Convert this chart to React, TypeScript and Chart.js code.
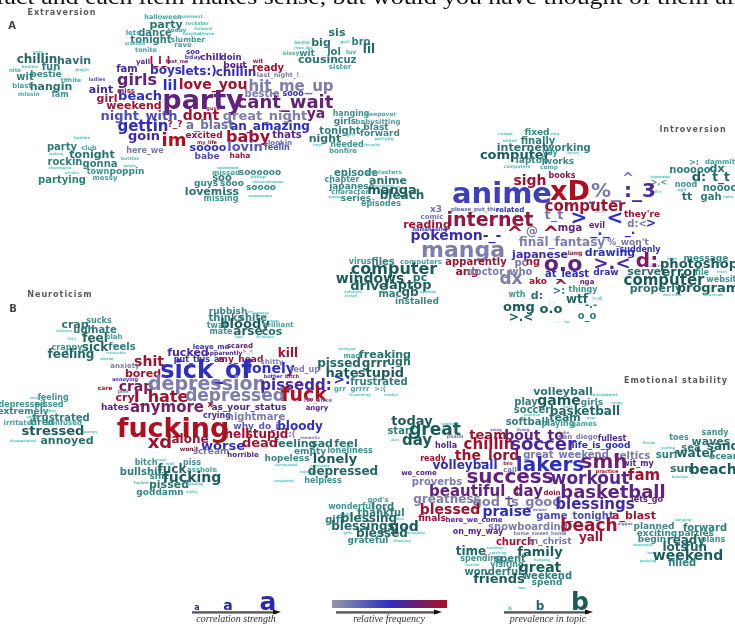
import { useEffect, useRef } from "react";
import { Chart, registerables } from "chart.js";

Chart.register(...registerables);

// [word, x, y, correlation strength, relative frequency]
type Term = [string, number, number, number, number];
// [word, x, y, prevalence in topic]
type Topic = [string, number, number, number];

const WIDTH = 735;
const HEIGHT = 624;
const FONT = "'DejaVu Sans', Verdana, sans-serif";

// ---------- Extraversion ----------
const extraversionTerms: Term[] = [
  ["soo", 193, 52, 0.07, 0.55],
  ["yall", 143, 62, 0.07, 0.7],
  ["l_l_l", 160, 61, 0.1, 0.95],
  ["text_me", 177, 62, 0.05, 0.8],
  ["bday", 193, 57, 0.06, 0.35],
  ["chill", 211, 58, 0.095, 0.65],
  ["doin", 231, 58, 0.085, 0.6],
  ["wit", 258, 61, 0.06, 0.85],
  ["fam", 127, 69, 0.1, 0.58],
  ["boys", 166, 71, 0.12, 0.5],
  ["lets:)", 199, 72, 0.12, 0.5],
  ["chillin", 236, 73, 0.12, 0.55],
  ["bout", 235, 66, 0.09, 0.7],
  ["ready", 268, 68, 0.1, 0.95],
  ["last_night_!", 278, 75, 0.065, 0.12],
  ["ladies", 97, 80, 0.05, 0.3],
  ["girls", 137, 81, 0.16, 0.7],
  ["lil", 170, 86, 0.14, 0.5],
  ["love_you", 213, 85, 0.14, 0.95],
  ["hit_me_up", 291, 87, 0.15, 0.12],
  ["aint", 101, 90, 0.11, 0.55],
  ["miss", 126, 91, 0.07, 0.9],
  ["girl", 107, 99, 0.11, 0.9],
  ["beach", 140, 97, 0.13, 0.5],
  ["party", 203, 102, 0.27, 0.7],
  ["bestie", 262, 94, 0.1, 0.12],
  ["sooo", 293, 94, 0.08, 0.5],
  ["cant_wait", 285, 103, 0.18, 0.72],
  ["weekend", 134, 106, 0.11, 0.95],
  ["guys", 213, 109, 0.05, 0.9],
  ["night_with", 139, 117, 0.13, 0.35],
  ["dont", 201, 116, 0.14, 0.95],
  ["great_night", 265, 117, 0.13, 0.12],
  ["ya", 316, 114, 0.14, 0.75],
  ["gettin", 143, 127, 0.15, 0.5],
  ["?_?", 175, 125, 0.09, 0.9],
  ["a_blast", 210, 126, 0.12, 0.2],
  ["an_amazing", 270, 127, 0.12, 0.5],
  ["goin", 144, 137, 0.13, 0.55],
  ["im", 174, 141, 0.18, 1],
  ["excited", 204, 136, 0.09, 0.9],
  ["baby", 248, 138, 0.16, 0.95],
  ["thats", 287, 135, 0.1, 0.7],
  ["my_life", 207, 143, 0.05, 0.9],
  ["lookin", 280, 143, 0.07, 0.2],
  ["soooo", 208, 148, 0.11, 0.5],
  ["lovin", 245, 148, 0.13, 0.3],
  ["feelin", 277, 148, 0.08, 0.35],
  ["here_we", 145, 151, 0.08, 0.15],
  ["babe", 207, 157, 0.09, 0.35],
  ["haha", 240, 156, 0.075, 0.9],
];

const extraversionNightOut: Topic[] = [
  ["halloween", 163, 17, 0.065],
  ["basement", 190, 17, 0.045],
  ["party", 166, 25, 0.11],
  ["rockstar", 197, 24, 0.05],
  ["lets", 133, 33, 0.07],
  ["dance", 155, 33, 0.1],
  ["today", 177, 30, 0.06],
  ["forward", 203, 29, 0.04],
  ["hospital", 192, 34, 0.04],
  ["whores", 206, 34, 0.04],
  ["tonight", 151, 40, 0.1],
  ["slumber", 188, 40, 0.075],
  ["wasted", 135, 44, 0.05],
  ["rave", 183, 45, 0.07],
  ["tonite", 146, 50, 0.065],
];

const extraversionHangingOut: Topic[] = [
  ["lovin", 38, 52, 0.035],
  ["chillin", 37, 60, 0.12],
  ["havin", 74, 61, 0.11],
  ["nite", 15, 71, 0.055],
  ["besties", 30, 67, 0.04],
  ["fun", 51, 67, 0.1],
  ["playin", 82, 70, 0.04],
  ["wit", 25, 77, 0.1],
  ["bestie", 46, 75, 0.09],
  ["sol", 67, 79, 0.035],
  ["tonite", 71, 80, 0.06],
  ["blast", 22, 86, 0.07],
  ["hangin", 51, 87, 0.11],
  ["missin", 29, 94, 0.06],
  ["fam", 60, 95, 0.08],
];

const extraversionFamily: Topic[] = [
  ["sis", 337, 33, 0.11],
  ["bestie", 302, 43, 0.045],
  ["big", 321, 43, 0.11],
  ["gurl", 345, 42, 0.04],
  ["bro", 361, 42, 0.1],
  ["lmao", 299, 48, 0.035],
  ["aka", 309, 48, 0.035],
  ["sissy", 291, 53, 0.06],
  ["wit", 307, 54, 0.09],
  ["lol", 334, 52, 0.1],
  ["luv", 351, 52, 0.06],
  ["lil", 369, 50, 0.12],
  ["cousin", 318, 60, 0.11],
  ["cuz", 347, 60, 0.1],
  ["sister", 340, 67, 0.07],
];

const extraversionClubbing: Topic[] = [
  ["homies", 82, 138, 0.04],
  ["party", 62, 147, 0.1],
  ["club", 89, 148, 0.065],
  ["rocking", 56, 154, 0.035],
  ["tonight", 92, 155, 0.11],
  ["bottles", 130, 159, 0.045],
  ["rockin", 65, 162, 0.1],
  ["gonna", 100, 164, 0.1],
  ["champagne", 60, 168, 0.035],
  ["boozin", 130, 166, 0.035],
  ["drinkin", 72, 173, 0.035],
  ["town", 98, 172, 0.08],
  ["poppin", 127, 172, 0.09],
  ["partying", 62, 180, 0.1],
  ["messy", 105, 178, 0.07],
];

const extraversionMissing: Topic[] = [
  ["sooooooo", 228, 168, 0.04],
  ["missed", 226, 173, 0.07],
  ["soooooo", 260, 173, 0.09],
  ["pickup", 258, 177, 0.04],
  ["soo", 222, 178, 0.1],
  ["soooooooooooo", 268, 182, 0.035],
  ["guys", 206, 184, 0.09],
  ["sooo", 232, 184, 0.09],
  ["lovemiss", 212, 192, 0.11],
  ["soooo", 261, 188, 0.09],
  ["missing", 221, 199, 0.08],
  ["sooooooooo", 260, 196, 0.035],
];

const extraversionSleepover: Topic[] = [
  ["hanging", 351, 114, 0.08],
  ["sleepover", 380, 114, 0.06],
  ["girls", 345, 122, 0.09],
  ["babysitting", 378, 122, 0.07],
  ["tonight", 340, 131, 0.1],
  ["blast", 376, 128, 0.09],
  ["night", 325, 139, 0.11],
  ["girly", 351, 135, 0.035],
  ["forward", 380, 134, 0.09],
  ["partying", 384, 139, 0.04],
  ["needed", 347, 145, 0.08],
  ["boys", 318, 145, 0.035],
  ["favorite", 372, 145, 0.035],
  ["bonfire", 343, 151, 0.07],
];

// ---------- Introversion ----------
const introversionTerms: Term[] = [
  ["sigh", 530, 181, 0.14, 0.95],
  ["books", 562, 176, 0.08, 0.85],
  ["anime", 502, 195, 0.29, 0.42],
  ["xD", 570, 193, 0.27, 1],
  ["%_", 606, 192, 0.2, 0.15],
  [":_3", 640, 192, 0.2, 0.6],
  ["^", 628, 179, 0.14, 0.15],
  ["sp", 592, 203, 0.05, 0.5],
  ["x3", 436, 210, 0.09, 0.15],
  ["please_put_this", 475, 210, 0.055, 0.25],
  ["related", 510, 210, 0.07, 0.5],
  ["computer", 585, 207, 0.15, 0.95],
  ["comic", 432, 217, 0.07, 0.15],
  ["internet", 490, 221, 0.19, 0.9],
  ["t_t", 554, 216, 0.13, 0.15],
  [">", 579, 219, 0.2, 0.5],
  ["<", 615, 219, 0.2, 0.5],
  [">.<", 600, 212, 0.05, 0.15],
  ["evil", 597, 226, 0.08, 0.7],
  ["they're", 642, 215, 0.09, 0.95],
  ["d:<", 637, 224, 0.1, 0.15],
  [">", 651, 224, 0.12, 0.5],
  ["reading", 427, 225, 0.11, 0.95],
  ["naman", 422, 230, 0.05, 0.5],
  ["using", 440, 230, 0.05, 0.5],
  ["^", 515, 235, 0.2, 0.95],
  ["@_", 535, 232, 0.12, 0.15],
  ["^", 551, 235, 0.2, 0.95],
  ["mga", 570, 228, 0.1, 0.7],
  ["_._", 600, 231, 0.14, 0.5],
  ["_.", 630, 231, 0.12, 0.5],
  ["pokemon-_-", 456, 236, 0.14, 0.55],
  ["manga", 463, 251, 0.22, 0.12],
  ["final_fantasy", 562, 243, 0.12, 0.12],
  ["%_won't", 628, 243, 0.09, 0.15],
  ["suddenly", 640, 250, 0.08, 0.5],
  ["japanese", 540, 255, 0.11, 0.55],
  ["lang", 575, 253, 0.06, 0.95],
  ["drawing", 610, 253, 0.11, 0.5],
  ["apparently", 476, 262, 0.1, 0.95],
  ["pc", 521, 263, 0.1, 0.15],
  ["ng", 533, 262, 0.1, 0.95],
  ["o.o", 563, 265, 0.22, 0.7],
  [">.<", 612, 264, 0.18, 0.6],
  ["d:", 647, 262, 0.2, 0.8],
  ["ang", 467, 272, 0.11, 0.95],
  ["doctor_who", 500, 272, 0.1, 0.12],
  ["dx", 511, 280, 0.17, 0.12],
  ["at_least", 567, 274, 0.1, 0.5],
  ["draw", 606, 273, 0.09, 0.5],
  ["ako", 538, 282, 0.09, 0.95],
  ["^", 561, 287, 0.16, 0.95],
  ["nga", 587, 282, 0.07, 0.7],
];

const introversionOnline: Topic[] = [
  ["created", 505, 134, 0.035],
  ["fixed", 537, 133, 0.09],
  ["slow", 555, 134, 0.035],
  ["online", 510, 141, 0.04],
  ["finally", 538, 141, 0.1],
  ["internet", 522, 148, 0.11],
  ["working", 568, 148, 0.1],
  ["computer", 515, 156, 0.13],
  ["yay", 550, 153, 0.08],
  ["library", 573, 153, 0.035],
  ["laptop", 532, 161, 0.09],
  ["works", 559, 162, 0.09],
  ["computers", 517, 167, 0.045],
  ["comp", 549, 167, 0.06],
];

const introversionAnime: Topic[] = [
  ["episode", 356, 173, 0.1],
  ["characters", 384, 172, 0.06],
  ["chapter", 342, 180, 0.08],
  ["anime", 388, 181, 0.11],
  ["japanese", 352, 187, 0.09],
  ["conventions", 382, 186, 0.035],
  ["manga", 392, 191, 0.13],
  ["character", 350, 192, 0.07],
  ["ep", 398, 187, 0.035],
  ["ending", 335, 197, 0.035],
  ["series", 356, 199, 0.09],
  ["bleach", 402, 196, 0.12],
  ["episodes", 381, 204, 0.08],
];

const introversionComputers: Topic[] = [
  ["virus", 360, 262, 0.08],
  ["files", 383, 262, 0.1],
  ["computers", 421, 262, 0.07],
  ["computer", 394, 270, 0.16],
  ["windows", 370, 279, 0.14],
  ["pc", 420, 278, 0.11],
  ["drive", 369, 287, 0.13],
  ["laptop", 408, 286, 0.13],
  ["software", 353, 292, 0.035],
  ["install", 351, 296, 0.035],
  ["mac", 390, 294, 0.1],
  ["gb", 410, 293, 0.12],
  ["system", 428, 292, 0.04],
  ["installed", 417, 302, 0.09],
];

const introversionEmoticons: Topic[] = [
  ["wth", 517, 295, 0.08],
  ["d:", 537, 296, 0.11],
  [">:", 559, 291, 0.1],
  ["thingy", 583, 290, 0.08],
  ["^_^", 552, 303, 0.035],
  ["wtf", 577, 300, 0.12],
  [">:d", 597, 299, 0.05],
  ["omg", 519, 308, 0.13],
  ["o.o", 551, 310, 0.13],
  ["^_^", 578, 305, 0.035],
  ["-.-", 591, 305, 0.1],
  [">.<", 521, 318, 0.12],
  ["o_o", 587, 316, 0.1],
  ["-_-", 558, 322, 0.035],
  ["xp", 567, 322, 0.035],
];

const introversionMoods: Topic[] = [
  [">:", 694, 163, 0.08],
  ["dammit", 720, 162, 0.07],
  ["noooooo", 660, 177, 0.04],
  ["nooooo", 690, 170, 0.1],
  ["dx", 717, 169, 0.11],
  ["d:", 699, 178, 0.13],
  ["t_t", 721, 178, 0.12],
  [">.<", 659, 183, 0.08],
  ["nood", 686, 185, 0.08],
  ["noooo", 720, 188, 0.1],
  ["d:<", 658, 192, 0.04],
  ["ugh", 682, 190, 0.04],
  ["tt", 687, 197, 0.11],
  ["gah", 711, 197, 0.1],
  ["haha", 728, 197, 0.035],
];

const introversionWeb: Topic[] = [
  ["type", 672, 259, 0.04],
  ["message", 706, 259, 0.09],
  ["code", 655, 266, 0.04],
  ["photoshop", 699, 265, 0.13],
  ["server", 647, 272, 0.11],
  ["error", 680, 273, 0.13],
  ["file", 702, 273, 0.08],
  ["fresh", 722, 272, 0.035],
  ["computer", 664, 281, 0.15],
  ["website", 724, 280, 0.08],
  ["properly", 656, 289, 0.11],
  ["program", 708, 289, 0.13],
  ["web view", 672, 295, 0.035],
  ["download", 713, 295, 0.035],
];

// ---------- Neuroticism ----------
const neuroticismTerms: Term[] = [
  ["leave_me", 211, 347, 0.07, 0.45],
  ["scared", 240, 346, 0.07, 0.7],
  ["fucked", 188, 353, 0.11, 0.6],
  ["apparently", 224, 353, 0.06, 0.65],
  [">_<", 248, 352, 0.05, 0.15],
  ["kill", 288, 354, 0.12, 0.95],
  ["shit", 149, 362, 0.14, 0.95],
  ["put_this_as", 199, 360, 0.08, 0.5],
  ["my_head", 241, 360, 0.09, 0.9],
  ["shitty", 272, 362, 0.07, 0.12],
  ["anxiety", 125, 366, 0.07, 0.12],
  ["sick_of", 206, 372, 0.24, 0.5],
  ["lonely", 271, 369, 0.14, 0.5],
  ["fed_up", 305, 370, 0.08, 0.12],
  ["bored", 143, 374, 0.11, 0.95],
  ["bother", 273, 377, 0.05, 0.65],
  ["bitch", 292, 377, 0.05, 0.95],
  ["annoying", 125, 380, 0.05, 0.6],
  ["care", 105, 388, 0.06, 0.95],
  ["crap", 136, 387, 0.14, 0.82],
  ["depression", 207, 385, 0.19, 0.12],
  ["pissedd:", 296, 386, 0.15, 0.58],
  ["piss", 123, 392, 0.05, 0.15],
  ["cry", 125, 398, 0.11, 0.95],
  ["I_hate", 161, 398, 0.16, 0.95],
  ["depressed", 235, 397, 0.17, 0.12],
  ["fuck", 304, 396, 0.19, 1],
  ["hates", 115, 408, 0.09, 0.65],
  ["anymore", 167, 408, 0.15, 0.78],
  ["x", 210, 405, 0.08, 0.95],
  ["as_your_status", 249, 408, 0.09, 0.6],
  ["for_once", 318, 400, 0.06, 0.12],
  ["angry", 317, 408, 0.07, 0.65],
  ["crying", 217, 416, 0.08, 0.55],
  ["nightmare", 256, 417, 0.1, 0.12],
  ["fucking", 173, 430, 0.27, 1],
  ["why_do_i", 256, 427, 0.09, 0.3],
  ["bloody", 300, 427, 0.12, 0.5],
  ["hell", 237, 435, 0.12, 0.95],
  ["stupid", 267, 435, 0.12, 0.95],
  [":(", 292, 435, 0.08, 0.15],
  ["romantic", 310, 438, 0.04, 0.15],
  ["xd", 160, 443, 0.18, 0.95],
  ["alone", 190, 440, 0.12, 0.95],
  ["won't", 189, 449, 0.06, 0.9],
  ["worse", 223, 447, 0.13, 0.5],
  ["dead", 260, 444, 0.13, 0.95],
  ["scream", 211, 452, 0.09, 0.15],
  ["horrible", 243, 455, 0.07, 0.65],
  [">:", 342, 380, 0.14, 0.5],
];

const neuroticismIllness: Topic[] = [
  ["crap", 75, 325, 0.11],
  ["sucks", 99, 321, 0.08],
  ["sickness", 64, 331, 0.035],
  ["ugh", 84, 330, 0.1],
  ["hate", 104, 330, 0.1],
  ["icky", 72, 339, 0.035],
  ["feel", 95, 339, 0.12],
  ["blah", 114, 337, 0.07],
  ["crappy", 67, 348, 0.08],
  ["sick", 95, 348, 0.12],
  ["feels", 122, 347, 0.1],
  ["feeling", 71, 355, 0.12],
  ["miserable", 116, 353, 0.035],
  ["worse", 107, 359, 0.04],
];

const neuroticismBritish: Topic[] = [
  ["rubbish", 228, 312, 0.09],
  ["sort", 249, 312, 0.035],
  ["uneasy", 262, 313, 0.035],
  ["thinks", 226, 318, 0.1],
  ["shite", 253, 318, 0.1],
  ["pisser", 273, 321, 0.035],
  ["twat", 217, 326, 0.08],
  ["bloody", 245, 325, 0.13],
  ["brilliant", 278, 325, 0.07],
  ["mate", 221, 332, 0.08],
  ["arse", 248, 332, 0.12],
  ["cos", 272, 332, 0.11],
  ["bad", 239, 337, 0.035],
  ["fit mates", 265, 337, 0.035],
];

const neuroticismStress: Topic[] = [
  ["mood", 35, 398, 0.035],
  ["feeling", 53, 398, 0.08],
  ["depressed", 22, 405, 0.08],
  ["pissed", 49, 405, 0.08],
  ["extremely", 23, 412, 0.09],
  ["slightly", 49, 411, 0.035],
  ["upset", 32, 417, 0.035],
  ["frustrated", 61, 418, 0.1],
  ["irritated", 20, 423, 0.07],
  ["tired", 42, 423, 0.09],
  ["confused", 64, 423, 0.07],
  ["stressed", 53, 432, 0.13],
  ["grumpy", 90, 432, 0.035],
  ["disappointed", 23, 441, 0.035],
  ["annoyed", 67, 441, 0.11],
];

const neuroticismAnger: Topic[] = [
  ["annoyed", 347, 349, 0.035],
  ["mad", 352, 356, 0.07],
  ["freaking", 385, 355, 0.11],
  ["pissed", 339, 364, 0.12],
  ["grrr", 375, 364, 0.12],
  ["ugh", 399, 362, 0.11],
  ["hate", 342, 374, 0.13],
  ["stupid", 381, 374, 0.13],
  ["frustrated", 379, 382, 0.1],
  ["grr", 340, 389, 0.07],
  ["grrrr", 360, 389, 0.07],
  [">:(", 380, 389, 0.07],
  ["frustrating", 360, 395, 0.035],
  ["freakin", 391, 395, 0.035],
];

const neuroticismSadness: Topic[] = [
  ["feeling", 295, 444, 0.11],
  ["sad", 322, 444, 0.11],
  ["feel", 346, 444, 0.11],
  ["empty", 310, 452, 0.09],
  ["loneliness", 350, 451, 0.08],
  ["hopeless", 287, 459, 0.09],
  ["lonely", 335, 460, 0.13],
  ["surrounded", 286, 465, 0.035],
  ["unlovable", 320, 466, 0.035],
  ["rejected", 308, 472, 0.035],
  ["depressed", 343, 472, 0.12],
  ["unwanted", 284, 481, 0.035],
  ["helpless", 323, 481, 0.08],
];

const neuroticismSwearing: Topic[] = [
  ["bitch", 146, 463, 0.08],
  ["pissy", 161, 460, 0.035],
  ["wat", 170, 464, 0.04],
  ["piss", 192, 463, 0.08],
  ["bullshit", 141, 472, 0.1],
  ["fuck", 172, 470, 0.12],
  ["asshole", 202, 470, 0.07],
  ["shit", 159, 477, 0.09],
  ["fucking", 192, 478, 0.14],
  ["fucked", 141, 483, 0.04],
  ["pissed", 169, 485, 0.11],
  ["pissing", 195, 484, 0.04],
  ["goddamn", 160, 493, 0.09],
  ["shitty", 192, 492, 0.035],
];

// ---------- Emotional stability ----------
const stabilityTerms: Term[] = [
  ["psalm", 455, 437, 0.05, 0.15],
  ["swag", 496, 430, 0.04, 0.15],
  ["thang", 523, 430, 0.04, 0.15],
  ["kobe", 564, 433, 0.04, 0.15],
  ["team", 488, 436, 0.13, 0.95],
  ["bout_to", 534, 436, 0.14, 0.7],
  ["san_diego", 578, 437, 0.07, 0.15],
  ["fullest", 612, 439, 0.08, 0.65],
  ["holla", 446, 446, 0.08, 0.65],
  ["chillin", 489, 445, 0.15, 0.95],
  ["soccer", 543, 445, 0.18, 0.6],
  ["life_is_good", 601, 446, 0.09, 0.5],
  ["ready", 433, 459, 0.08, 0.95],
  ["the_lord", 487, 456, 0.14, 0.95],
  ["great_weekend", 566, 455, 0.1, 0.15],
  ["celtics", 632, 456, 0.1, 0.15],
  ["volleyball", 465, 466, 0.12, 0.5],
  ["lakers", 550, 466, 0.2, 0.5],
  ["smh", 604, 463, 0.2, 0.75],
  ["wit_my", 638, 464, 0.08, 0.65],
  ["bro", 508, 464, 0.05, 0.95],
  ["call", 510, 470, 0.07, 0.15],
  ["we_come", 419, 473, 0.07, 0.65],
  ["success", 510, 478, 0.2, 0.7],
  ["workout", 590, 480, 0.17, 0.65],
  ["fam", 644, 476, 0.15, 0.95],
  ["practice", 607, 472, 0.05, 0.95],
  ["proverbs", 437, 482, 0.1, 0.12],
  ["beautiful_day", 486, 492, 0.15, 0.7],
  ["!", 517, 491, 0.1, 0.95],
  ["doin", 552, 493, 0.07, 0.95],
  ["basketball", 613, 493, 0.18, 0.7],
  ["greatness", 447, 500, 0.12, 0.12],
  ["god_is_good", 517, 503, 0.13, 0.12],
  ["blessings", 595, 505, 0.15, 0.58],
  ["lets_go", 647, 500, 0.08, 0.65],
  ["blessed", 450, 510, 0.14, 0.95],
  ["praise", 507, 512, 0.14, 0.5],
  ["miami", 540, 510, 0.04, 0.15],
  ["game_tonight", 575, 516, 0.1, 0.35],
  ["a_blast", 634, 516, 0.11, 0.95],
  ["finals", 432, 519, 0.09, 0.95],
  ["here_we_come", 474, 520, 0.07, 0.6],
  ["snowboarding", 528, 527, 0.1, 0.12],
  ["beach", 589, 527, 0.17, 0.95],
  ["niggas", 625, 524, 0.04, 0.15],
  ["on_my_way", 478, 532, 0.08, 0.65],
  ["home_sweet_home", 540, 534, 0.05, 0.15],
  ["yall", 591, 538, 0.12, 0.95],
  ["church", 515, 542, 0.1, 0.95],
  ["in_christ", 550, 542, 0.09, 0.15],
];

const stabilitySports: Topic[] = [
  ["volleyball", 563, 392, 0.11],
  ["tournament", 604, 395, 0.04],
  ["play", 526, 402, 0.1],
  ["game", 559, 401, 0.14],
  ["girls", 592, 403, 0.09],
  ["candy", 617, 403, 0.035],
  ["soccer", 532, 410, 0.1],
  ["boys", 568, 407, 0.035],
  ["basketball", 585, 412, 0.12],
  ["practice", 532, 415, 0.035],
  ["team", 565, 418, 0.11],
  ["wear", 591, 418, 0.035],
  ["softball", 527, 422, 0.1],
  ["playing", 558, 424, 0.08],
  ["games", 584, 424, 0.07],
];

const stabilityDay: Topic[] = [
  ["today", 412, 422, 0.13],
  ["weekend", 450, 424, 0.035],
  ["start", 401, 431, 0.1],
  ["great", 435, 431, 0.17],
  ["alas", 395, 440, 0.035],
  ["day", 417, 441, 0.15],
];

const stabilityBeach: Topic[] = [
  ["toes", 679, 438, 0.08],
  ["sandy", 715, 433, 0.08],
  ["florida", 649, 443, 0.035],
  ["waves", 711, 442, 0.11],
  ["surfing", 668, 448, 0.035],
  ["sea", 691, 448, 0.1],
  ["sand", 723, 447, 0.12],
  ["surf", 667, 455, 0.1],
  ["water", 696, 454, 0.12],
  ["ocean", 724, 457, 0.09],
  ["sun", 681, 469, 0.11],
  ["beach", 713, 470, 0.14],
  ["beaches", 680, 477, 0.035],
];

const stabilityBlessings: Topic[] = [
  ["god's", 378, 500, 0.07],
  ["wonderful", 351, 507, 0.08],
  ["lord", 383, 507, 0.1],
  ["giving", 346, 514, 0.035],
  ["thankful", 381, 513, 0.1],
  ["gift", 335, 520, 0.1],
  ["blessing", 369, 519, 0.12],
  ["bliss", 400, 519, 0.035],
  ["blessings", 363, 527, 0.12],
  ["god", 404, 527, 0.14],
  ["gifts", 348, 533, 0.035],
  ["blessed", 382, 534, 0.12],
  ["everyday", 416, 533, 0.035],
  ["grateful", 368, 541, 0.09],
  ["thanking", 402, 541, 0.035],
];

const stabilityPlans: Topic[] = [
  ["camping", 683, 520, 0.035],
  ["planned", 654, 527, 0.09],
  ["forward", 705, 528, 0.1],
  ["exciting", 657, 534, 0.09],
  ["parties", 696, 534, 0.09],
  ["begin", 652, 540, 0.09],
  ["ready", 686, 541, 0.12],
  ["plans", 713, 540, 0.08],
  ["weekends", 643, 545, 0.035],
  ["lots", 675, 548, 0.12],
  ["fun", 696, 548, 0.12],
  ["busy", 652, 553, 0.035],
  ["weekend", 688, 556, 0.14],
  ["partying", 648, 561, 0.035],
  ["filled", 682, 563, 0.1],
];

const stabilityFamily: Topic[] = [
  ["tradition", 495, 548, 0.035],
  ["time", 471, 552, 0.12],
  ["catching", 498, 553, 0.035],
  ["family", 540, 553, 0.13],
  ["spending", 481, 559, 0.08],
  ["spent", 510, 559, 0.1],
  ["hanging", 542, 560, 0.035],
  ["reunion", 472, 565, 0.035],
  ["visiting", 507, 565, 0.08],
  ["wonderful", 493, 572, 0.1],
  ["great", 540, 568, 0.14],
  ["friends", 499, 580, 0.13],
  ["weekend", 547, 576, 0.1],
  ["spend", 547, 583, 0.09],
  ["fam", 522, 588, 0.035],
];

const topicGroups: Topic[][] = [
  extraversionNightOut,
  extraversionHangingOut,
  extraversionFamily,
  extraversionClubbing,
  extraversionMissing,
  extraversionSleepover,
  introversionOnline,
  introversionAnime,
  introversionComputers,
  introversionEmoticons,
  introversionMoods,
  introversionWeb,
  neuroticismIllness,
  neuroticismBritish,
  neuroticismStress,
  neuroticismAnger,
  neuroticismSadness,
  neuroticismSwearing,
  stabilitySports,
  stabilityDay,
  stabilityBeach,
  stabilityBlessings,
  stabilityPlans,
  stabilityFamily,
];

const termGroups: Term[][] = [
  extraversionTerms,
  introversionTerms,
  neuroticismTerms,
  stabilityTerms,
];

// panel captions: [text, x, y]
const panelTitles: [string, number, number][] = [
  ["Extraversion", 62, 13],
  ["Introversion", 693, 130],
  ["Neuroticism", 60, 295],
  ["Emotional stability", 676, 381],
];
const panelLetters: [string, number, number][] = [
  ["A", 12, 26],
  ["B", 13, 309],
];

const headline = "fact and each item makes sense, but would you have thought of them all";

// legend samples
const legendStrengths = [0.08, 0.14, 0.25];
const legendPrevalence = [0.05, 0.12, 0.25];

// ---------- colour scales ----------
const GREY = [150, 150, 168];
const BLUE = [46, 46, 192];
const RED = [176, 14, 30];
const TEAL_LIGHT = [92, 200, 196];
const TEAL_DARK = [26, 92, 90];

const mix = (a: number[], b: number[], t: number) =>
  `rgb(${a.map((v, i) => Math.round(v + (b[i] - v) * t)).join(",")})`;

function freqColor(f: number): string {
  return f < 0.5 ? mix(GREY, BLUE, f / 0.5) : mix(BLUE, RED, (f - 0.5) / 0.5);
}

function prevalenceColor(p: number): string {
  const t = Math.max(0, Math.min(1, (p - 0.035) / (0.13 - 0.035)));
  return mix(TEAL_LIGHT, TEAL_DARK, t);
}

type Word = { text: string; size: number; color: string };

function topicDataset(list: Topic[]) {
  return {
    data: list.map((t) => ({ x: t[1], y: t[2] })),
    words: list.map((t) => ({ text: t[0], size: t[3] * 100, color: prevalenceColor(t[3]) })),
    pointRadius: 0,
  };
}

function termDataset(list: Term[]) {
  return {
    data: list.map((t) => ({ x: t[1], y: t[2] })),
    words: list.map((t) => ({ text: t[0], size: t[3] * 100, color: freqColor(t[4]) })),
    pointRadius: 0,
  };
}

const wordPlugin = {
  id: "wordCloud",
  beforeDraw(chart: any) {
    const ctx = chart.ctx;
    ctx.save();
    ctx.fillStyle = "#ffffff";
    ctx.fillRect(0, 0, chart.width, chart.height);
    ctx.restore();
  },
  afterDatasetsDraw(chart: any) {
    const ctx = chart.ctx as CanvasRenderingContext2D;
    ctx.save();
    ctx.textAlign = "center";
    ctx.textBaseline = "middle";
    chart.data.datasets.forEach((ds: any, i: number) => {
      const meta = chart.getDatasetMeta(i);
      (ds.words as Word[]).forEach((w, j) => {
        const el = meta.data[j];
        ctx.font = `bold ${w.size.toFixed(1)}px ${FONT}`;
        ctx.fillStyle = w.color;
        ctx.fillText(w.text, el.x, el.y);
      });
    });
    ctx.restore();
  },
  afterDraw(chart: any) {
    const ctx = chart.ctx as CanvasRenderingContext2D;
    const xs = chart.scales.x;
    const ys = chart.scales.y;
    const px = (v: number) => xs.getPixelForValue(v);
    const py = (v: number) => ys.getPixelForValue(v);
    ctx.save();

    // running text of the page above the figure, cut off at the top edge
    ctx.fillStyle = "#111";
    ctx.textAlign = "left";
    ctx.textBaseline = "alphabetic";
    ctx.font = `22px 'Liberation Serif', serif`;
    const w = ctx.measureText(headline).width;
    ctx.save();
    ctx.translate(px(-4), py(4));
    ctx.scale(745 / w, 1);
    ctx.fillText(headline, 0, 0);
    ctx.restore();

    // panel captions
    ctx.textAlign = "center";
    ctx.textBaseline = "middle";
    (ctx as any).letterSpacing = "1px";
    ctx.fillStyle = "#5a5a5a";
    ctx.font = `bold 8px ${FONT}`;
    panelTitles.forEach(([t, x, y]) => ctx.fillText(t, px(x), py(y)));
    (ctx as any).letterSpacing = "0px";
    ctx.fillStyle = "#444";
    ctx.font = `bold 10px ${FONT}`;
    panelLetters.forEach(([t, x, y]) => ctx.fillText(t, px(x), py(y)));

    // legend arrows
    const arrow = (x1: number, x2: number, y: number) => {
      ctx.strokeStyle = "#9a9a9a";
      ctx.lineWidth = 2.2;
      ctx.beginPath();
      ctx.moveTo(px(x1), py(y) + 0.8);
      ctx.lineTo(px(x2) - 4, py(y) + 0.8);
      ctx.stroke();
      ctx.strokeStyle = "#111";
      ctx.lineWidth = 1.1;
      ctx.beginPath();
      ctx.moveTo(px(x1), py(y));
      ctx.lineTo(px(x2) - 4, py(y));
      ctx.stroke();
      ctx.fillStyle = "#111";
      ctx.beginPath();
      ctx.moveTo(px(x2), py(y));
      ctx.lineTo(px(x2) - 8, py(y) - 2.5);
      ctx.lineTo(px(x2) - 8, py(y) + 2.5);
      ctx.closePath();
      ctx.fill();
    };
    arrow(192, 281, 612);
    arrow(336, 442, 612);
    arrow(504, 593, 612);

    ctx.fillStyle = "#333";
    ctx.font = `italic 10px 'Liberation Serif', serif`;
    ctx.textBaseline = "middle";
    ctx.fillText("correlation strength", px(236), py(619));
    ctx.fillText("relative frequency", px(389), py(619));
    ctx.fillText("prevalence in topic", px(548), py(619));

    // size samples
    ctx.textBaseline = "alphabetic";
    const aX = [197, 228, 268];
    legendStrengths.forEach((s, i) => {
      ctx.font = `bold ${s * 100}px ${FONT}`;
      ctx.fillStyle = "rgb(44,40,170)";
      ctx.fillText("a", px(aX[i]), py(610));
    });
    const bX = [510, 540, 580];
    legendPrevalence.forEach((s, i) => {
      ctx.font = `bold ${s * 100}px ${FONT}`;
      ctx.fillStyle = prevalenceColor(s);
      ctx.fillText("b", px(bX[i]), py(610));
    });

    // frequency colour bar
    const gx1 = px(332), gx2 = px(447);
    const grad = ctx.createLinearGradient(gx1, 0, gx2, 0);
    grad.addColorStop(0, freqColor(0));
    grad.addColorStop(0.5, freqColor(0.5));
    grad.addColorStop(1, freqColor(1));
    ctx.fillStyle = grad;
    ctx.fillRect(gx1, py(600), gx2 - gx1, py(608) - py(600));

    ctx.restore();
  },
};

export default function App() {
  const canvasRef = useRef<HTMLCanvasElement | null>(null);

  useEffect(() => {
    if (!canvasRef.current) return;
    const datasets: any[] = [
      ...topicGroups.map(topicDataset),
      ...termGroups.map(termDataset),
    ];
    const chart = new Chart(canvasRef.current, {
      type: "scatter",
      data: { datasets },
      options: {
        animation: false,
        responsive: false,
        events: [],
        layout: { padding: 0 },
        scales: {
          x: { type: "linear", min: 0, max: WIDTH, display: false },
          y: { type: "linear", min: 0, max: HEIGHT, reverse: true, display: false },
        },
        plugins: { legend: { display: false }, tooltip: { enabled: false } },
        elements: { point: { radius: 0 } },
      },
      plugins: [wordPlugin],
    });
    return () => chart.destroy();
  }, []);

  return (
    <div style={{ position: "absolute", left: 0, top: 0, width: WIDTH, height: HEIGHT }}>
      <canvas ref={canvasRef} width={WIDTH} height={HEIGHT} />
    </div>
  );
}
